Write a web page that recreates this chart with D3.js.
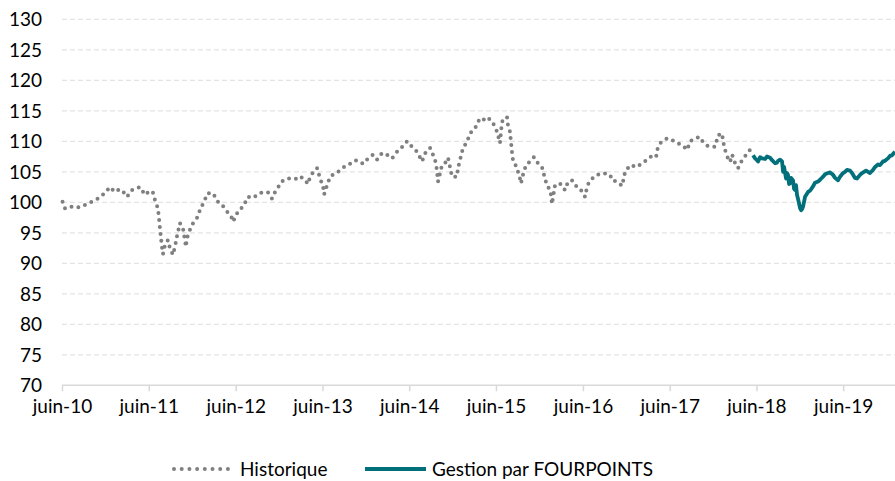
<!DOCTYPE html>
<meta charset="utf-8">
<style>
  body { margin: 0; background: #fff; }
  text { font-family: 'Lato', sans-serif; fill: #000; }
  .grid line { stroke: #e4e4e4; stroke-width: 1.3; stroke-dasharray: 5 3; }
  .hist { fill: none; stroke: #808080; stroke-width: 4; stroke-dasharray: 0 7; stroke-linecap: round; stroke-linejoin: round; }
  .fp { fill: none; stroke: #02707a; stroke-width: 3.8; stroke-linejoin: round; }
</style>
<body>
<script src="https://cdn.jsdelivr.net/npm/d3@7"></script>
<script>

// historique (dates in decimal years)
var histDates = [2010.420, 2010.449, 2010.506, 2010.587, 2010.644, 2010.702, 2010.771, 2010.817, 2010.852, 2010.909,
  2010.967, 2011.025, 2011.071, 2011.105, 2011.163, 2011.220, 2011.267, 2011.313, 2011.370, 2011.428,
  2011.462, 2011.485, 2011.520, 2011.532, 2011.543, 2011.555, 2011.566, 2011.578, 2011.601, 2011.635,
  2011.658, 2011.693, 2011.716, 2011.739, 2011.773, 2011.808, 2011.843, 2011.854, 2011.889, 2011.912,
  2011.969, 2012.004, 2012.050, 2012.096, 2012.154, 2012.211, 2012.257, 2012.315, 2012.373, 2012.384,
  2012.442, 2012.499, 2012.557, 2012.615, 2012.672, 2012.730, 2012.787, 2012.833, 2012.868, 2012.914,
  2012.960, 2013.018, 2013.098, 2013.156, 2013.214, 2013.248, 2013.271, 2013.329, 2013.352, 2013.386,
  2013.421, 2013.433, 2013.467, 2013.502, 2013.559, 2013.594, 2013.651, 2013.709, 2013.790, 2013.824,
  2013.882, 2013.939, 2013.997, 2014.043, 2014.101, 2014.158, 2014.216, 2014.285, 2014.343, 2014.389,
  2014.446, 2014.504, 2014.562, 2014.596, 2014.654, 2014.688, 2014.723, 2014.734, 2014.746, 2014.792,
  2014.827, 2014.861, 2014.884, 2014.907, 2014.965, 2014.976, 2015.011, 2015.034, 2015.080, 2015.115,
  2015.172, 2015.230, 2015.287, 2015.322, 2015.380, 2015.426, 2015.460, 2015.483, 2015.541, 2015.552,
  2015.575, 2015.587, 2015.598, 2015.610, 2015.633, 2015.656, 2015.679, 2015.702, 2015.725, 2015.760,
  2015.806, 2015.852, 2015.898, 2015.944, 2015.979, 2016.002, 2016.036, 2016.048, 2016.059, 2016.094,
  2016.151, 2016.209, 2016.244, 2016.290, 2016.324, 2016.382, 2016.405, 2016.440, 2016.463, 2016.497,
  2016.578, 2016.647, 2016.728, 2016.751, 2016.808, 2016.866, 2016.900, 2016.958, 2017.039, 2017.106,
  2017.164, 2017.211, 2017.258, 2017.269, 2017.304, 2017.384, 2017.442, 2017.499, 2017.557, 2017.615,
  2017.649, 2017.707, 2017.764, 2017.799, 2017.857, 2017.937, 2017.972, 2018.018, 2018.029, 2018.052,
  2018.076, 2018.110, 2018.133, 2018.168, 2018.202, 2018.248, 2018.306, 2018.340, 2018.375];
var histValues = [100.1, 99.0, 99.3, 99.1, 99.4, 99.7, 100.2, 100.5, 100.9, 101.5,
  102.5, 101.7, 102.1, 102.0, 100.9, 102.0, 102.3, 102.5, 101.2, 101.9,
  101.6, 100.4, 99.0, 97.4, 95.8, 94.1, 92.7, 91.5, 93.0, 93.8,
  92.5, 91.4, 92.7, 94.4, 96.6, 95.8, 92.7, 94.1, 95.5, 96.3,
  97.4, 98.7, 100.1, 101.5, 101.5, 100.1, 99.6, 98.5, 97.4, 96.8,
  98.5, 99.3, 100.9, 100.7, 101.3, 101.7, 101.6, 100.6, 101.7, 102.7,
  103.6, 103.9, 103.8, 104.3, 103.6, 103.0, 104.2, 105.4, 105.6, 103.9,
  102.6, 101.3, 102.8, 104.2, 104.8, 105.0, 105.7, 106.1, 106.9, 106.8,
  106.3, 107.2, 107.8, 107.0, 108.1, 107.8, 107.2, 108.5, 109.2, 110.0,
  109.1, 108.3, 106.7, 108.0, 108.9, 107.8, 106.4, 105.0, 103.4, 106.1,
  106.4, 107.3, 105.8, 104.2, 104.2, 105.6, 107.6, 108.9, 109.9, 111.3,
  112.1, 113.8, 113.5, 113.9, 113.0, 111.6, 109.7, 113.2, 114.0, 112.7,
  111.6, 109.9, 108.3, 106.9, 106.4, 105.3, 104.7, 103.1, 104.5, 106.1,
  106.7, 107.4, 106.4, 105.8, 103.9, 102.8, 102.0, 101.2, 99.7, 102.8,
  103.1, 102.0, 103.4, 103.6, 102.8, 102.3, 101.7, 100.9, 102.6, 103.6,
  104.5, 104.8, 104.5, 103.6, 103.4, 102.7, 105.0, 106.1, 105.8, 106.6,
  107.0, 107.7, 107.5, 108.6, 109.7, 110.5, 110.2, 109.7, 109.4, 108.6,
  110.0, 110.5, 110.7, 109.8, 109.2, 109.1, 111.0, 111.3, 110.0, 108.6,
  107.5, 106.6, 107.8, 106.4, 105.6, 106.9, 108.0, 108.6, 107.7];

// gestion par FOURPOINTS
var fpDates = [2018.375, 2018.398, 2018.421, 2018.433, 2018.456, 2018.479, 2018.513, 2018.536, 2018.571, 2018.594,
  2018.629, 2018.651, 2018.663, 2018.686, 2018.709, 2018.721, 2018.732, 2018.755, 2018.767, 2018.778,
  2018.790, 2018.801, 2018.813, 2018.836, 2018.847, 2018.859, 2018.870, 2018.882, 2018.894, 2018.905,
  2018.917, 2018.928, 2018.940, 2018.951, 2018.974, 2019.009, 2019.032, 2019.066, 2019.089, 2019.124,
  2019.147, 2019.182, 2019.205, 2019.239, 2019.262, 2019.297, 2019.320, 2019.354, 2019.377, 2019.412,
  2019.435, 2019.458, 2019.493, 2019.516, 2019.550, 2019.573, 2019.608, 2019.631, 2019.677, 2019.700,
  2019.723, 2019.757, 2019.781, 2019.815, 2019.838, 2019.873, 2019.896, 2019.930, 2019.953, 2019.976,
  2020.011];
var fpValues = [107.7, 107.2, 106.9, 106.7, 107.4, 107.2, 107.1, 107.5, 107.3, 106.9,
  106.4, 106.5, 106.8, 107.0, 106.7, 105.0, 105.8, 103.9, 104.8, 104.5,
  103.0, 103.1, 104.0, 103.6, 102.2, 102.0, 102.8, 101.2, 100.5, 99.8,
  99.0, 98.7, 98.9, 99.3, 100.9, 101.7, 101.9, 102.6, 103.2, 103.4,
  103.7, 104.2, 104.6, 104.8, 104.9, 104.5, 104.0, 103.6, 104.2, 104.8,
  105.0, 105.3, 105.2, 104.8, 104.0, 103.9, 104.5, 104.8, 105.2, 105.0,
  104.8, 105.3, 105.8, 106.2, 106.1, 106.7, 106.8, 107.2, 107.6, 107.7,
  108.3];

var yTicks = [70, 75, 80, 85, 90, 95, 100, 105, 110, 115, 120, 125, 130];
var xTickYears = [2010, 2011, 2012, 2013, 2014, 2015, 2016, 2017, 2018, 2019];

function toDate(t) {
  var yr = Math.floor(t);
  var start = Date.UTC(yr, 0, 1), end = Date.UTC(yr + 1, 0, 1);
  return new Date(start + (t - yr) * (end - start));
}

var W = 895, H = 481;
var plotLeft = 62, plotRight = 895, plotTop = 19.3, plotBottom = 385.3;
var fs = "19px";

var x = d3.scaleUtc()
    .domain([toDate(2010.414), toDate(2020.011)])
    .range([plotLeft, plotRight]);
var y = d3.scaleLinear()
    .domain([70, 130])
    .range([plotBottom, plotTop]);

var svg = d3.select("body").append("svg")
    .attr("width", W)
    .attr("height", H);

// grid
svg.append("g").attr("class", "grid")
  .selectAll("line")
  .data(yTicks.filter(function(d) { return d > 70; }))
  .enter().append("line")
    .attr("x1", plotLeft).attr("x2", plotRight)
    .attr("y1", function(d) { return y(d); })
    .attr("y2", function(d) { return y(d); });

// y labels
svg.append("g")
  .selectAll("text")
  .data(yTicks)
  .enter().append("text")
    .attr("x", 42)
    .attr("y", function(d) { return y(d); })
    .attr("dy", "0.36em")
    .attr("text-anchor", "end")
    .style("font-size", fs)
    .text(function(d) { return d; });

// x axis
var xAxis = d3.axisBottom(x)
    .tickValues(xTickYears.map(function(yr) { return new Date(Date.UTC(yr, 5, 1)); }))
    .tickFormat(function(d) { return "juin-" + d3.utcFormat("%y")(d); })
    .tickSize(6)
    .tickSizeOuter(0)
    .tickPadding(8);

var gx = svg.append("g")
    .attr("transform", "translate(0," + plotBottom + ")")
    .call(xAxis);
gx.select(".domain").attr("stroke", "#d9d9d9").attr("stroke-width", 1.5)
    .attr("d", "M" + plotLeft + ",0H" + plotRight);
gx.selectAll(".tick line").attr("stroke", "#d9d9d9").attr("stroke-width", 1.5);
gx.selectAll(".tick text")
    .style("font-family", "Lato, sans-serif")
    .style("font-size", fs)
    .attr("fill", "#000");

var line = d3.line()
    .x(function(d) { return x(toDate(d[0])); })
    .y(function(d) { return y(d[1]); });

svg.append("path")
    .attr("class", "hist")
    .attr("d", line(d3.zip(histDates, histValues)));

svg.append("path")
    .attr("class", "fp")
    .attr("d", line(d3.zip(fpDates, fpValues)));

// legend
var leg = svg.append("g");
leg.append("line")
    .attr("class", "hist")
    .attr("x1", 174).attr("x2", 228)
    .attr("y1", 469).attr("y2", 469)
    .style("stroke-dasharray", "0 7.7");
leg.append("text")
    .attr("x", 240).attr("y", 469).attr("dy", "0.36em")
    .style("font-size", fs)
    .text("Historique");
leg.append("line")
    .attr("class", "fp")
    .attr("x1", 365).attr("x2", 426)
    .attr("y1", 469).attr("y2", 469);
leg.append("text")
    .attr("x", 432).attr("y", 469).attr("dy", "0.36em")
    .style("font-size", fs)
    .text("Gestion par FOURPOINTS");

</script>
</body>
